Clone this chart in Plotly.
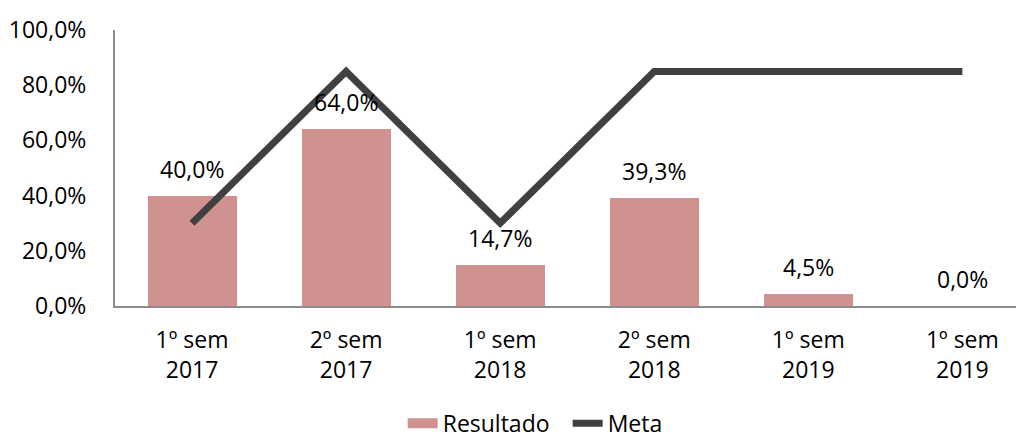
import plotly.graph_objects as go

# dados do grafico
periodos = ["1º sem<br>2017", "2º sem<br>2017", "1º sem<br>2018",
            "2º sem<br>2018", "1º sem<br>2019", "1º sem<br>2019"]
resultado = [40.0, 64.0, 14.7, 39.3, 4.5, 0.0]
meta = [30, 85, 30, 85, 85, 85]
rotulos = ["40,0%", "64,0%", "14,7%", "39,3%", "4,5%", "0,0%"]

pos = list(range(len(periodos)))
fonte = dict(family="Open Sans", size=23, color="#000000")
cor_barra = "#d09191"

fig = go.Figure()

fig.add_trace(go.Bar(x=pos, y=resultado, name="Resultado", showlegend=False,
                     legendgroup="res",
                     marker=dict(color=cor_barra, line=dict(width=0)),
                     width=0.578))
# so para a legenda (retangulo largo como no original)
fig.add_trace(go.Scatter(x=[None], y=[None], name="Resultado", mode="lines",
                         legendgroup="res",
                         line=dict(color=cor_barra, width=15)))

fig.add_trace(go.Scatter(x=pos, y=meta, name="Meta", mode="lines",
                         line=dict(color="#404040", width=7)))

# rotulos acima das barras
for xi, yi, t in zip(pos, resultado, rotulos):
    fig.add_annotation(x=xi, y=yi, text=t, showarrow=False,
                       yshift=27, font=fonte)

# a pagina tem margem de 8px no body, entao compenso aqui
fig.update_layout(
    width=1016, height=431,
    margin=dict(l=107, r=0, t=22, b=133, autoexpand=False),
    plot_bgcolor="white", paper_bgcolor="white",
    font=fonte,
    bargap=0,
    legend=dict(orientation="h", x=0.498, xanchor="center",
                y=-0.425, yanchor="middle", font=fonte,
                itemwidth=30, tracegroupgap=0,
                entrywidth=120, entrywidthmode="pixels"),
    separators=", ",
)

fig.update_xaxes(range=[-0.5, 5.4], tickvals=pos, ticktext=periodos,
                 showline=True, linecolor="#8c8c8c", linewidth=2,
                 showgrid=False, ticks="", tickfont=fonte,
                 automargin=False, ticklabelstandoff=12)
fig.update_yaxes(range=[0, 100], dtick=20, tickformat=".1f", ticksuffix="%",
                 showline=True, linecolor="#8c8c8c", linewidth=2,
                 showgrid=False, zeroline=False, ticks="",
                 automargin=False, ticklabelstandoff=22, tickfont=fonte)

fig.write_html("out.html")
